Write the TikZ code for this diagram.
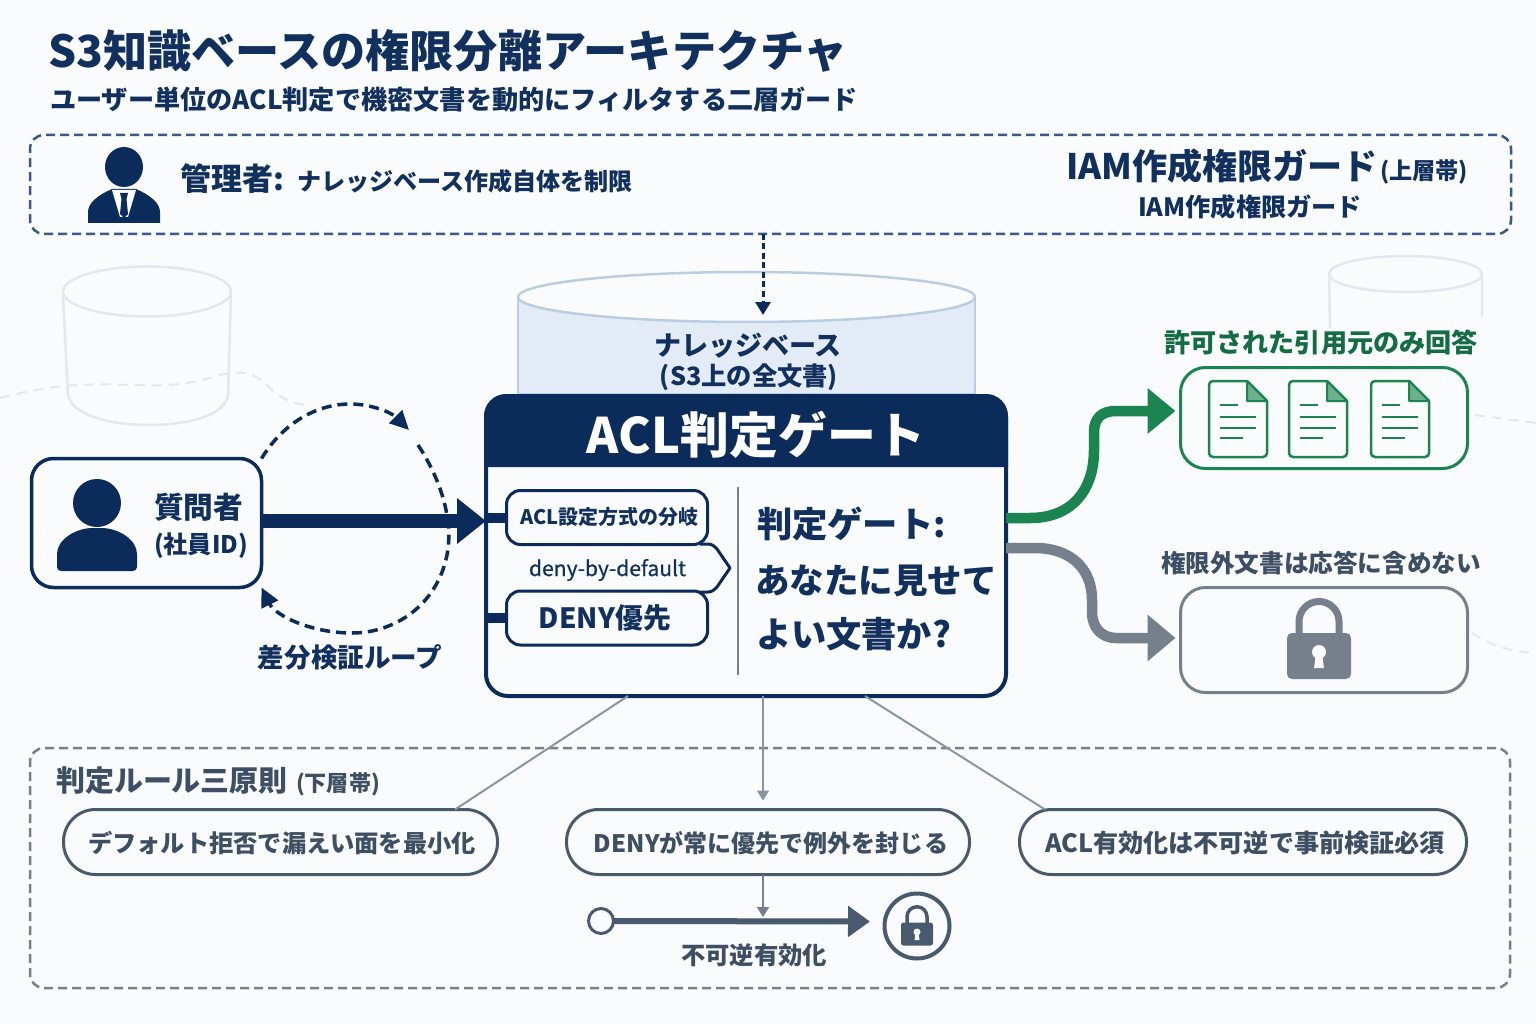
\documentclass[tikz,border=0pt]{standalone}
\usepackage{fontspec}
\usepackage{graphicx}
\setmainfont{Noto Sans CJK JP}
\newfontfamily\medf{Noto Sans CJK JP}[FakeBold=0.5]
\usetikzlibrary{arrows.meta}
\definecolor{bgc}{HTML}{FAFBFC}
\definecolor{navy}{HTML}{0B2B5A}
\definecolor{navyt}{HTML}{12305E}
\definecolor{dashblue}{HTML}{3A5A8A}
\definecolor{faint}{HTML}{E2E8F0}
\definecolor{kbfill}{HTML}{E3ECF6}
\definecolor{kbline}{HTML}{BACDE3}
\definecolor{grn}{HTML}{1B8450}
\definecolor{grnt}{HTML}{146C43}
\definecolor{grnf}{HTML}{6DB08D}
\definecolor{gry}{HTML}{76808D}
\definecolor{slate}{HTML}{4A5A6E}
\definecolor{slatet}{HTML}{3F4F63}
\definecolor{thin}{HTML}{8A95A3}
\newcommand{\fit}[2]{\resizebox{#1pt}{!}{\vphantom{国}#2}}
\newcommand{\lockicon}[4]{%
  \begin{scope}[shift={(#1,#2)},scale=#3]
    \draw[#4,line width={7*#3}] (-20,36) -- (-20,23.5) arc[start angle=180,end angle=0,x radius=20,y radius=-20] -- (20,36);
    \fill[#4,rounded corners={5*#3}] (-32,35) rectangle (32,81);
    \fill[bgc] (0,54) circle (7);
    \fill[bgc] (-3,56) -- (3,56) -- (5,70) -- (-5,70) -- cycle;
  \end{scope}}
\tikzset{
  txt/.style={inner sep=0pt,outer sep=0pt,font=\bfseries},
  softdash/.style={draw=faint,line width=2pt,dash pattern=on 10pt off 7pt},
  ghost/.style={draw=faint,line width=2.5pt},
  panel/.style={rounded corners=14pt,line width=2.5pt,dash pattern=on 9pt off 5pt,inner sep=0pt,outer sep=0pt},
  cardbox/.style={draw,rounded corners=22pt,inner sep=0pt,outer sep=0pt,line width=3.5pt},
  tagbox/.style={draw=navy,fill=bgc,rounded corners=14pt,line width=3pt,inner sep=0pt,outer sep=0pt,minimum width=201pt,minimum height=54pt},
  pillbox/.style={draw=slate,fill=bgc,rounded corners=32pt,line width=3pt,inner sep=0pt,outer sep=0pt,minimum height=65pt},
  thinline/.style={draw=thin,line width=2pt},
  docicon/.pic={
    \draw[grn,line width=2.5pt,fill=bgc,line join=round] (38,0) [rounded corners=4pt] -- (0,0) -- (0,76) -- (58,76) [sharp corners] -- (58,20) -- cycle;
    \draw[grn,line width=2pt,fill=grnf,line join=round] (38,0) -- (38,20) -- (58,20) -- cycle;
    \draw[grn,line width=2.5pt] (11,24) -- (29,24) (11,36) -- (47,36) (11,47) -- (47,47) (11,57) -- (34,57);
  }
}
\begin{document}
\begin{tikzpicture}[x=1pt,y=-1pt]
\useasboundingbox (0,0) rectangle (1536,1024);
\fill[bgc] (0,0) rectangle (1536,1024);

% faint background
\draw[softdash] (0,398) .. controls (30,390) and (55,386) .. (80,385) .. controls (130,382) and (170,392) .. (215,376) .. controls (250,368) and (255,375) .. (270,388) .. controls (280,398) and (295,405) .. (308,405);
\draw[softdash] (1475,415) -- (1536,423);
\draw[softdash] (1472,633) .. controls (1490,645) and (1510,652) .. (1536,653);
\draw[ghost] (63,295) -- (68,395) .. controls (72,415) and (110,425) .. (148,425) .. controls (190,425) and (225,415) .. (228,395) -- (231,295);
\draw[ghost] (147,291.5) ellipse[x radius=84,y radius=25];
\draw[ghost] (1329,274) -- (1330,328) (1482,274) -- (1482,316);
\draw[ghost] (1405.5,274) ellipse[x radius=76.5,y radius=18];

% title
\node[txt,anchor=west,text=navyt] (title) at (48,51) {\fit{800}{S3知識ベースの権限分離アーキテクチャ}};
\node[txt,anchor=west,text=navyt] (subtitle) at (50,100) {\fit{808}{ユーザー単位のACL判定で機密文書を動的にフィルタする二層ガード}};

% top band
\node[panel,draw=dashblue,minimum width=1481pt,minimum height=99pt] (topbox) at (770.5,184.5) {};
\fill[navy] (124,167) ellipse[x radius=19,y radius=20];
\fill[navy] (88,223) -- (88,212) .. controls (88,203) and (98,195) .. (112,189) -- (136,189) .. controls (150,195) and (160,203) .. (160,212) -- (160,223) -- cycle;
\fill[bgc] (112,190) -- (136,190) -- (128,217) -- (120,217) -- cycle;
\fill[navy] (120,193) -- (128,193) -- (126.5,199) -- (128,214) -- (124,218) -- (120,214) -- (121.5,199) -- cycle;
\node[txt,anchor=west,text=navyt] (admintext) at (180,179) {\fit{104}{管理者:}\hspace{13pt}\fit{336}{ナレッジベース作成自体を制限}};
\node[txt,anchor=west,text=navyt] (iam) at (1066,167) {\fit{312}{IAM作成権限ガード}\hspace{2pt}\fit{88}{(上層帯)}};
\node[txt,anchor=west,text=navyt] (iamsub) at (1138,207) {\fit{224}{IAM作成権限ガード}};

% KB cylinder
\filldraw[fill=kbfill,draw=kbline,line width=2.5pt] (518,297) -- (518,394) -- (975,394) -- (975,297) -- cycle;
\filldraw[fill=bgc,draw=kbline,line width=2.5pt] (746.5,297) ellipse[x radius=228.5,y radius=25];
\node[txt,text=navyt] (kb) at (748,346) {\fit{188}{ナレッジベース}};
\node[txt,text=navyt] (kbsub) at (749,377) {\fit{178}{(S3上の全文書)}};
\coordinate (kbtip) at (763,315);
\draw[navy,line width=3pt,dash pattern=on 6pt off 3.5pt,-{Triangle[length=13pt,width=15pt]}] ([xshift=-7.5pt]topbox.south) -- (kbtip);

% loop
\coordinate (loopmid) at (418,445);
\node[txt,text=navyt] (looplabel) at (350,657) {\fit{184}{差分検証ループ}};

% questioner
\node[cardbox,draw=navy,fill=bgc,minimum width=230pt,minimum height=129pt] (q) at (146.5,523) {};
\fill[navy] (97,503) circle (24);
\fill[navy,rounded corners=4pt] (57,571) -- (57,558) .. controls (57,540) and (75,528) .. (97,528) .. controls (119,528) and (137,540) .. (137,558) -- (137,571) -- cycle;
\node[txt,text=navyt] (qname) at (198.5,507) {\fit{89}{質問者}};
\node[txt,text=navyt] (qsub) at (201,545.5) {\fit{94}{(社員ID)}};

\draw[navy,line width=3.5pt,dash pattern=on 10pt off 6pt,-{Triangle[length=19pt,width=18pt]}] (q.north east) .. controls (285,420) and (320,404) .. (350,404) .. controls (372,404) and (392,413) .. (409,430);
\draw[navy,line width=3.5pt,dash pattern=on 10pt off 6pt,-{Triangle[length=19pt,width=18pt]}] (loopmid) .. controls (440,478) and (454,520) .. (447,555) .. controls (437,605) and (395,633) .. (352,633) .. controls (310,633) and (275,615) .. (q.south east);

% gate
\node[draw=navy,fill=bgc,rounded corners=22pt,line width=4pt,inner sep=0pt,outer sep=0pt,minimum width=520pt,minimum height=300pt] (gate) at (746,546) {};
\fill[navy] (484,467) [rounded corners=22pt] -- (484,394) -- (1008,394) [sharp corners] -- (1008,467) -- cycle;
\node[txt,text=white] (gatetitle) at (756,435) {\fit{338}{ACL判定ゲート}};

\draw[navy,line width=14pt,-{Triangle[length=29pt,width=44pt]}] ([yshift=2pt]q.east) -- ([yshift=25pt]gate.west);

\draw[navy,line width=3pt,fill=bgc,line join=round] (700,544) -- (708,544) .. controls (712,544) and (714,546) .. (717,549) -- (730,568) -- (717,587) .. controls (714,590) and (712,592) .. (708,592) -- (700,592);
\node[tagbox] (aclbox) at (607,517.5) {};
\node[txt,text=navyt] (acltext) at (609.5,517) {\fit{178}{ACL設定方式の分岐}};
\node[txt,font=\medf,text=navyt] (denyby) at (607.5,570) {\fit{157}{deny-by-default}};
\node[tagbox] (denybox) at (607,618) {};
\node[txt,text=navyt] (denytext) at (605,618) {\fit{132}{DENY優先}};
\draw[navy,line width=10pt] (gate.west |- aclbox.west) -- (aclbox.west);
\draw[navy,line width=10pt] (gate.west |- denybox.west) -- (denybox.west);
\coordinate (divtop) at (738,487);
\coordinate (divbot) at (738,675);
\draw[gry,line width=2.5pt] (divtop) -- (divbot);
\node[txt,anchor=west,text=navyt] (q1) at (757,523.5) {\fit{189}{判定ゲート:}};
\node[txt,anchor=west,text=navyt] (q2) at (755,581) {\fit{242}{あなたに見せて}};
\node[txt,anchor=west,text=navyt] (q3) at (756,634) {\fit{195}{よい文書か?}};

% outputs
\node[txt,text=grnt] (oklabel) at (1321,343) {\fit{314}{許可された引用元のみ回答}};
\node[cardbox,draw=grn,line width=3pt,rounded corners=25pt,fill=bgc,minimum width=287pt,minimum height=101pt] (okbox) at (1324,418) {};
\pic at (1209,381) {docicon};
\pic at (1289,381) {docicon};
\pic at (1371,381) {docicon};
\node[txt,text=slatet] (nglabel) at (1321,563) {\fit{320}{権限外文書は応答に含めない}};
\node[cardbox,draw=gry,line width=3pt,rounded corners=25pt,fill=bgc,minimum width=287pt,minimum height=105pt] (ngbox) at (1324,640) {};
\lockicon{1319}{598}{1}{gry}

\draw[grn,line width=10.5pt,-{Triangle[length=28pt,width=44pt]}] ([yshift=28pt]gate.east) -- (1030,518) .. controls (1072,518) and (1094,490) .. (1094,450) -- (1094,432) .. controls (1094,418) and (1102,411) .. (1116,411) -- ([xshift=-5pt,yshift=7pt]okbox.west);
\draw[gry,line width=10.5pt,-{Triangle[length=28pt,width=45pt]}] ([yshift=-2pt]gate.east) -- (1035,548) .. controls (1070,548) and (1092,568) .. (1092,600) -- (1092,612) .. controls (1092,628) and (1102,638) .. (1116,638) -- ([xshift=-5pt,yshift=2pt]ngbox.west);

% bottom band
\node[panel,draw=gry,minimum width=1480pt,minimum height=240pt] (botbox) at (770,868) {};
\node[txt,anchor=west,text=slatet] (botlabel) at (56,781) {\fit{232}{判定ルール三原則}\hspace{8pt}\fit{84}{(下層帯)}};
\node[pillbox,minimum width=434pt] (p1) at (280.5,842) {};
\node[pillbox,minimum width=403pt] (p2) at (768,842) {};
\node[pillbox,minimum width=447pt] (p3) at (1243,842) {};
\node[txt,text=slatet] (p1t) at (282,843) {\fit{388}{デフォルト拒否で漏えい面を最小化}};
\node[txt,text=slatet] (p2t) at (771,843) {\fit{354}{DENYが常に優先で例外を封じる}};
\node[txt,text=slatet] (p3t) at (1245,843) {\fit{400}{ACL有効化は不可逆で事前検証必須}};
\draw[thinline] ([xshift=-118pt]gate.south) -- ([xshift=174.5pt]p1.north);
\draw[thinline,-{Triangle[length=10pt,width=12pt]},shorten >=9pt] ([xshift=17pt]gate.south) -- ([xshift=-5pt]p2.north);
\draw[thinline] ([xshift=119pt]gate.south) -- ([xshift=-198pt]p3.north);

% irreversible track
\node[draw=slate,fill=bgc,circle,line width=3pt,minimum size=25pt,inner sep=0pt,outer sep=0pt] (startc) at (601,921) {};
\node[draw=slate,fill=bgc,circle,line width=4pt,minimum size=65pt,inner sep=0pt,outer sep=0pt] (lockc) at (917,926) {};
\lockicon{917}{905}{0.5}{slate}
\coordinate (tracktip) at (870,921.5);
\draw[slate,line width=6pt,-{Triangle[length=22pt,width=30pt]}] (startc.east) -- (tracktip);
\coordinate (trackdrop) at (763,917);
\draw[draw=gry,line width=2pt,-{Triangle[length=10pt,width=12pt]}] ([xshift=-5pt]p2.south) -- (trackdrop);
\node[txt,text=slatet] (tracklabel) at (754,955.5) {\fit{146}{不可逆有効化}};
\end{tikzpicture}
\end{document}
